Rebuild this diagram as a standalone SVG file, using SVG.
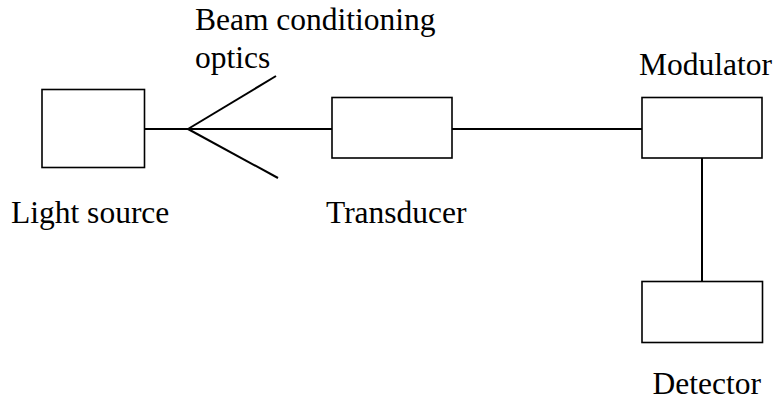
<svg xmlns="http://www.w3.org/2000/svg" width="779" height="400" viewBox="0 0 779 400">
<style>
.box{fill:#fff;stroke:#000;stroke-width:1.6}
.ln{stroke:#000;stroke-width:2;fill:none}
.lbl{font-family:"Liberation Serif","Times New Roman",serif;font-size:31.5px;fill:#000}
</style>
<rect width="779" height="400" fill="#fff"/>
<g id="connectors">
<line class="ln" x1="144" y1="129" x2="332" y2="129"/>
<line class="ln" x1="188" y1="129" x2="276" y2="76"/>
<line class="ln" x1="188" y1="129" x2="278" y2="178"/>
<line class="ln" x1="452" y1="129" x2="642" y2="129"/>
<line class="ln" x1="702" y1="158" x2="702" y2="281"/>
</g>
<g id="light-source">
<rect class="box" x="42" y="89.5" width="102.5" height="78"/>
<text class="lbl" x="11" y="223">Light source</text>
</g>
<g id="beam-optics">
<text class="lbl" x="195" y="30">Beam conditioning</text>
<text class="lbl" x="195" y="68">optics</text>
</g>
<g id="transducer">
<rect class="box" x="332" y="97.5" width="120" height="60.5"/>
<text class="lbl" x="326" y="223">Transducer</text>
</g>
<g id="modulator">
<rect class="box" x="642" y="97.5" width="120" height="60.5"/>
<text class="lbl" x="639" y="75">Modulator</text>
</g>
<g id="detector">
<rect class="box" x="642" y="281.5" width="120.5" height="61"/>
<text class="lbl" x="652.5" y="394">Detector</text>
</g>
</svg>
